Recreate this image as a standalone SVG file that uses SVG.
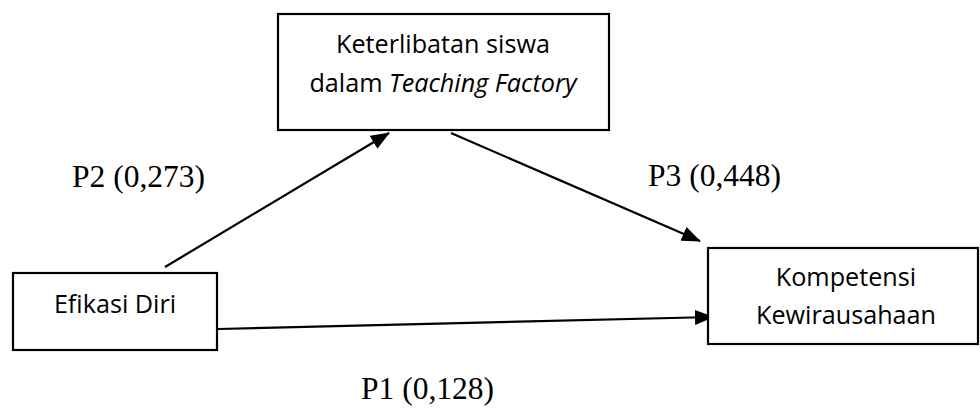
<svg xmlns="http://www.w3.org/2000/svg" width="980" height="413" viewBox="0 0 980 413">
<style>
.box{fill:#fff;stroke:#000;stroke-width:2.2}
.bt{font-family:"Open Sans","Liberation Sans",sans-serif;font-size:25.2px;fill:#000;text-anchor:middle}
.lbl{font-family:"Liberation Serif","Times New Roman",serif;font-size:31.5px;fill:#000}
.edge{stroke:#000;stroke-width:2.2;fill:none;marker-end:url(#ah)}
</style>
<defs>
<marker id="ah" viewBox="0 0 19 15" refX="18" refY="7.5" markerWidth="19" markerHeight="15" markerUnits="userSpaceOnUse" orient="auto">
<path d="M0,0 L19,7.5 L0,15 z" fill="#000"/>
</marker>
</defs>
<rect width="980" height="413" fill="#fff"/>
<g id="connectors">
<line class="edge" x1="165" y1="267" x2="389" y2="133"/>
<line class="edge" x1="451" y1="133" x2="700" y2="241"/>
<line class="edge" x1="218" y1="329" x2="713" y2="317"/>
</g>
<g id="node-keterlibatan">
<rect class="box" x="278" y="14" width="331" height="116"/>
<text class="bt" x="443" y="53">Keterlibatan siswa</text>
<text class="bt" x="443" y="92">dalam <tspan font-style="italic">Teaching Factory</tspan></text>
</g>
<g id="node-efikasi">
<rect class="box" x="13" y="273" width="204" height="77"/>
<text class="bt" x="115" y="313">Efikasi Diri</text>
</g>
<g id="node-kompetensi">
<rect class="box" x="708" y="248" width="270" height="96"/>
<text class="bt" x="846" y="286">Kompetensi</text>
<text class="bt" x="846" y="324">Kewirausahaan</text>
</g>
<g id="labels">
<text class="lbl" x="72" y="187">P2 (0,273)</text>
<text class="lbl" x="648" y="186">P3 (0,448)</text>
<text class="lbl" x="361" y="399">P1 (0,128)</text>
</g>
</svg>
